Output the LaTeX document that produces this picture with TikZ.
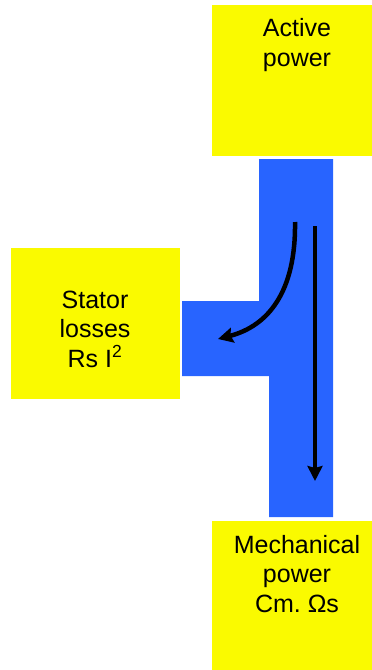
\documentclass[tikz,border=0pt]{standalone}
\usepackage{fontspec}
\setmainfont{Liberation Sans}
\usetikzlibrary{arrows.meta}
\definecolor{boxyellow}{RGB}{250,250,0}
\definecolor{flowblue}{RGB}{40,100,255}
\begin{document}
\begin{tikzpicture}[x=1pt,y=-1pt,
  box/.style={fill=boxyellow,draw=none},
  lbl/.style={align=center,inner sep=0pt,anchor=base,font=\fontsize{25}{29.5}\selectfont},
  flow/.style={line width=4.5pt,-{Stealth[length=15pt,width=15pt,inset=2pt]}}]
\useasboundingbox (0,0) rectangle (372,670);
% yellow blocks
\fill[box] (212,5) rectangle (372,156);
\fill[box] (11,248) rectangle (180,399);
\fill[box] (212,521) rectangle (372,670);
% power flow band
\fill[flowblue] (259,159) -- (333,159) -- (333,517) -- (269,517) -- (269,376)
  -- (182,376) -- (182,301) -- (259,301) -- cycle;
% labels (anchored on the baseline of their last line)
\node[lbl] (active) at (297,66) {Active\\power};
\node[lbl] (stator) at (95,367) {Stator\\losses\\Rs I\textsuperscript{2}};
\node[lbl] (mech) at (297,612) {Mechanical\\power\\Cm.\ Ωs};
% flow arrows
\coordinate (ls) at (295,222);
\coordinate (le) at (218,339);
\coordinate (ms) at (315,226);
\coordinate (me) at (315,481);
\draw[flow] (ls) .. controls (296,292) and (268,326) .. (le);
\draw[flow] (ms) -- (me);
\end{tikzpicture}
\end{document}
